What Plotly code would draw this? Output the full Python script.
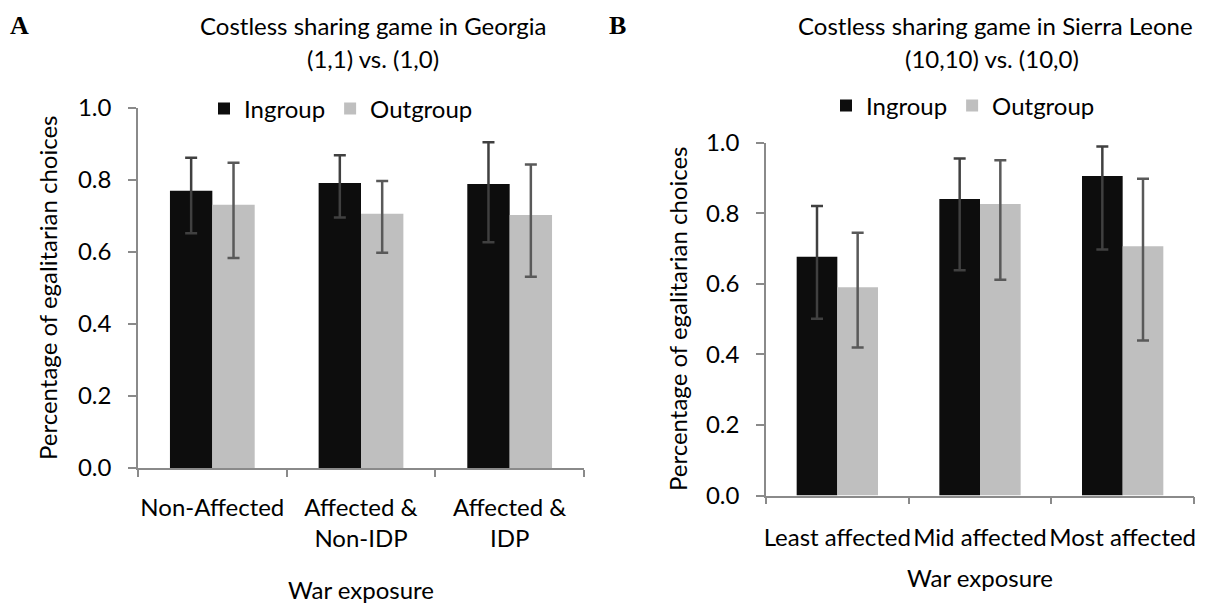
import plotly.graph_objects as go

# ---- Panel A: Georgia, costless sharing game (1,1) vs. (1,0) ----
georgia_groups = ["Non-Affected", "Affected &<br>Non-IDP", "Affected &<br>IDP"]
georgia_in_mean = [0.770, 0.792, 0.789]
georgia_in_high = [0.862, 0.869, 0.905]
georgia_in_low = [0.652, 0.696, 0.627]
georgia_out_mean = [0.731, 0.706, 0.703]
georgia_out_high = [0.848, 0.797, 0.843]
georgia_out_low = [0.583, 0.598, 0.531]

# ---- Panel B: Sierra Leone, costless sharing game (10,10) vs. (10,0) ----
sierra_groups = ["Least affected", "Mid affected", "Most affected"]
sierra_in_mean = [0.676, 0.840, 0.905]
sierra_in_high = [0.820, 0.955, 0.989]
sierra_in_low = [0.501, 0.638, 0.697]
sierra_out_mean = [0.590, 0.826, 0.706]
sierra_out_high = [0.744, 0.950, 0.897]
sierra_out_low = [0.419, 0.611, 0.439]

y_ticks = [0.0, 0.2, 0.4, 0.6, 0.8, 1.0]

W, H = 1205, 606
FONT = "Lato"
FS = 24
IN_COLOR = "#0d0d0d"
OUT_COLOR = "#bfbfbf"
AXIS_COLOR = "#8a8a8a"


def px_x(p):
    return p / W


def px_y(p):
    return 1 - p / H


def err(mean, high, low, color):
    return dict(
        type="data",
        symmetric=False,
        array=[h - m for h, m in zip(high, mean)],
        arrayminus=[m - l for m, l in zip(mean, low)],
        color=color,
        thickness=2.5,
        width=6,
    )


fig = go.Figure()

fig.add_trace(go.Bar(
    x=georgia_groups, y=georgia_in_mean, name="Ingroup",
    marker=dict(color=IN_COLOR, line=dict(width=0)),
    error_y=err(georgia_in_mean, georgia_in_high, georgia_in_low, "#404040"),
    xaxis="x", yaxis="y", legend="legend",
))
fig.add_trace(go.Bar(
    x=georgia_groups, y=georgia_out_mean, name="Outgroup",
    marker=dict(color=OUT_COLOR, line=dict(width=0)),
    error_y=err(georgia_out_mean, georgia_out_high, georgia_out_low, "#595959"),
    xaxis="x", yaxis="y", legend="legend",
))
fig.add_trace(go.Bar(
    x=sierra_groups, y=sierra_in_mean, name="Ingroup",
    marker=dict(color=IN_COLOR, line=dict(width=0)),
    error_y=err(sierra_in_mean, sierra_in_high, sierra_in_low, "#404040"),
    xaxis="x2", yaxis="y2", legend="legend2",
))
fig.add_trace(go.Bar(
    x=sierra_groups, y=sierra_out_mean, name="Outgroup",
    marker=dict(color=OUT_COLOR, line=dict(width=0)),
    error_y=err(sierra_out_mean, sierra_out_high, sierra_out_low, "#595959"),
    xaxis="x2", yaxis="y2", legend="legend2",
))

tick_font = dict(family=FONT, size=FS, color="black")

x_common = dict(
    type="category", range=[-0.5, 2.5], showline=True, linecolor=AXIS_COLOR,
    linewidth=1.5, ticks="outside", tickson="boundaries", ticklen=7,
    tickcolor=AXIS_COLOR, tickwidth=1.5, tickangle=0, showgrid=False,
    zeroline=False, tickfont=tick_font, fixedrange=True,
)
y_common = dict(
    range=[0, 1], tickvals=y_ticks, tickformat=".1f", showline=True,
    linecolor=AXIS_COLOR, linewidth=1.5, ticks="outside", ticklen=8,
    tickcolor=AXIS_COLOR, tickwidth=1.5, showgrid=False, zeroline=False,
    tickfont=tick_font, ticklabelstandoff=12, fixedrange=True,
)

fig.update_layout(
    width=W, height=H,
    margin=dict(l=0, r=0, t=0, b=0, autoexpand=False),
    paper_bgcolor="white", plot_bgcolor="white",
    font=dict(family=FONT, size=FS, color="black"),
    barmode="group", bargap=0.43, bargroupgap=0,
    xaxis=dict(domain=[px_x(138), px_x(584)], anchor="y",
               ticklabelstandoff=17, **x_common),
    yaxis=dict(domain=[px_y(468), px_y(108)], anchor="x", **y_common),
    xaxis2=dict(domain=[px_x(766), px_x(1194)], anchor="y2",
                ticklabelstandoff=20, **x_common),
    yaxis2=dict(domain=[px_y(495.5), px_y(142.5)], anchor="x2", **y_common),
    legend=dict(orientation="h", x=px_x(204), y=px_y(109), xanchor="left",
                yanchor="middle", font=tick_font, bgcolor="rgba(0,0,0,0)"),
    legend2=dict(orientation="h", x=px_x(826), y=px_y(106), xanchor="left",
                 yanchor="middle", font=tick_font, bgcolor="rgba(0,0,0,0)"),
)

annotations = [
    # panel letters
    dict(text="<b>A</b>", x=px_x(19), y=px_y(26),
         font=dict(family="Liberation Serif", size=26, color="black")),
    dict(text="<b>B</b>", x=px_x(617), y=px_y(26),
         font=dict(family="Liberation Serif", size=26, color="black")),
    # panel titles
    dict(text="Costless sharing game in Georgia", x=px_x(373), y=px_y(26)),
    dict(text="(1,1) vs. (1,0)", x=px_x(373), y=px_y(58)),
    dict(text="Costless sharing game in Sierra Leone", x=px_x(996), y=px_y(26)),
    dict(text="(10,10) vs. (10,0)", x=px_x(992), y=px_y(58)),
    # axis titles
    dict(text="War exposure", x=px_x(361), y=px_y(589)),
    dict(text="War exposure", x=px_x(980), y=px_y(577)),
    dict(text="Percentage of egalitarian choices", x=px_x(47), y=px_y(288),
         textangle=-90),
    dict(text="Percentage of egalitarian choices", x=px_x(677), y=px_y(319),
         textangle=-90),
]
for a in annotations:
    a.setdefault("font", dict(family=FONT, size=FS, color="black"))
    a.update(xref="paper", yref="paper", xanchor="center", yanchor="middle",
             showarrow=False)
fig.update_layout(annotations=annotations)

fig.write_html("out.html")
